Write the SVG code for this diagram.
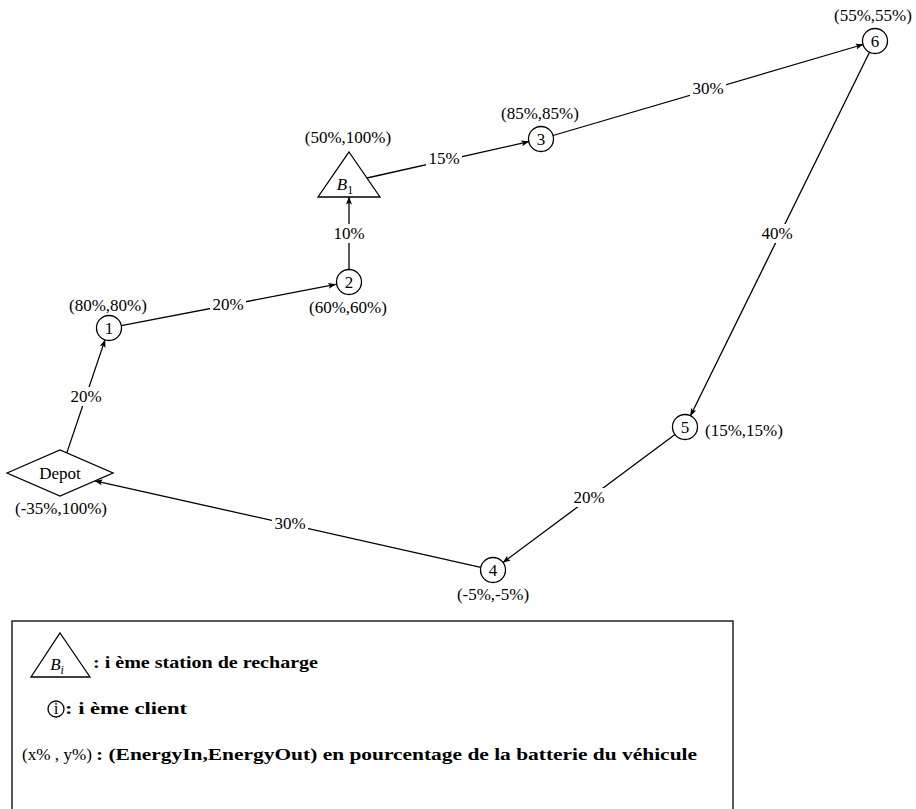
<svg xmlns="http://www.w3.org/2000/svg" width="916" height="809" viewBox="0 0 916 809">
<defs>
<style>
text{font-family:"Liberation Serif","DejaVu Serif",serif;font-size:17px;fill:#000;text-anchor:middle}
.shape{fill:#fff;stroke:#000;stroke-width:1.3}
.edge{stroke:#000;stroke-width:1.3;fill:none;marker-end:url(#arr)}
.lbg{fill:#fff;stroke:none}
.b{font-weight:bold;text-anchor:start}
.l{text-anchor:start}
</style>
<marker id="arr" viewBox="0 0 8 6" refX="7.5" refY="3" markerWidth="8" markerHeight="6" markerUnits="userSpaceOnUse" orient="auto">
<path d="M0,0 L8,3 L0,6 L1.8,3 z" fill="#000"/>
</marker>
</defs>
<rect width="916" height="809" fill="#fff"/>

<g id="connectors">
<line class="edge" x1="66.8" y1="452.9" x2="105" y2="339.9"/>
<line class="edge" x1="121.3" y1="325.6" x2="335.7" y2="284.4"/>
<line class="edge" x1="349" y1="269.5" x2="349" y2="197"/>
<line class="edge" x1="367" y1="178" x2="528.8" y2="141.7"/>
<line class="edge" x1="553" y1="135.5" x2="863" y2="44.5"/>
<line class="edge" x1="869.5" y1="52.2" x2="690.5" y2="415.8"/>
<line class="edge" x1="675" y1="434.5" x2="503" y2="562.5"/>
<line class="edge" x1="480.8" y1="567.3" x2="95" y2="480.8"/>
<g id="edge-labels">
<rect class="lbg" x="68" y="387" width="36" height="19"/><text x="86" y="402">20%</text>
<rect class="lbg" x="210" y="295" width="36" height="19"/><text x="228" y="310">20%</text>
<rect class="lbg" x="331" y="224" width="36" height="19"/><text x="349" y="239">10%</text>
<rect class="lbg" x="426" y="149" width="36" height="19"/><text x="444" y="164">15%</text>
<rect class="lbg" x="690" y="79" width="36" height="19"/><text x="708" y="94">30%</text>
<rect class="lbg" x="759" y="224" width="36" height="19"/><text x="777" y="239">40%</text>
<rect class="lbg" x="571" y="488" width="36" height="19"/><text x="589" y="503">20%</text>
<rect class="lbg" x="272" y="514" width="36" height="19"/><text x="290" y="529">30%</text>
</g>
</g>

<g id="depot">
<polygon class="shape" points="7,473 60,450 113,473 60,496"/>
<text x="60" y="479">Depot</text>
<text x="61" y="514">(-35%,100%)</text>
</g>
<g id="node1">
<circle class="shape" cx="109" cy="328" r="12.5"/>
<text x="109" y="334">1</text>
<text x="108" y="311">(80%,80%)</text>
</g>
<g id="node2">
<circle class="shape" cx="349" cy="282" r="12.5"/>
<text x="349" y="288">2</text>
<text x="348" y="313">(60%,60%)</text>
</g>
<g id="B1">
<polygon class="shape" points="349,152 380,197 318,197"/>
<text x="345" y="190" font-style="italic">B<tspan font-size="12" dy="4" font-style="normal">1</tspan></text>
<text x="348" y="143">(50%,100%)</text>
</g>
<g id="node3">
<circle class="shape" cx="541" cy="139" r="12.5"/>
<text x="541" y="145">3</text>
<text x="540" y="119">(85%,85%)</text>
</g>
<g id="node6">
<circle class="shape" cx="875" cy="41" r="12.5"/>
<text x="875" y="47">6</text>
<text x="873" y="21">(55%,55%)</text>
</g>
<g id="node5">
<circle class="shape" cx="685" cy="427" r="12.5"/>
<text x="685" y="433">5</text>
<text x="744" y="436">(15%,15%)</text>
</g>
<g id="node4">
<circle class="shape" cx="493" cy="570" r="12.5"/>
<text x="493" y="576">4</text>
<text x="493" y="600">(-5%,-5%)</text>
</g>

<g id="legend">
<rect x="12" y="621" width="721" height="200" fill="none" stroke="#000" stroke-width="1.3"/>
<polygon class="shape" points="60,633 90,677 31,677"/>
<text x="57" y="670" font-style="italic">B<tspan font-size="12" dy="4">i</tspan></text>
<text class="b" x="93" y="668" textLength="225" lengthAdjust="spacingAndGlyphs">: i ème station de recharge</text>
<circle class="shape" cx="56" cy="709" r="8"/>
<text x="56" y="714" font-size="15">i</text>
<text class="b" x="65" y="714" textLength="122" lengthAdjust="spacingAndGlyphs">: i ème client</text>
<text class="l" x="22" y="760" textLength="70" lengthAdjust="spacingAndGlyphs">(x% , y%)</text>
<text class="b" x="96" y="760" textLength="601" lengthAdjust="spacingAndGlyphs">: (EnergyIn,EnergyOut) en pourcentage de la batterie du véhicule</text>
</g>
</svg>
